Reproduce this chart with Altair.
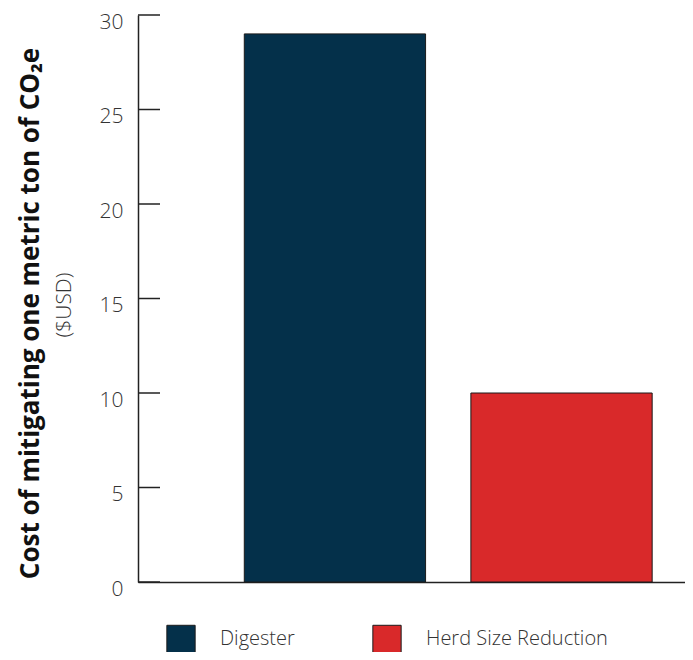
import altair as alt
import pandas as pd

categories = ["Digester", "Herd Size Reduction"]
values = [29, 10]
colors = ["#04304A", "#D9292A"]
tick_values = [0, 5, 10, 15, 20, 25, 30]

FONT = "Open Sans"

df = pd.DataFrame({"category": categories, "value": values})
ticks_df = pd.DataFrame({"t": tick_values})
sub_df = pd.DataFrame({"label": ["($USD)"]})

y_scale = alt.Scale(domain=[0, 30], nice=False)

bars = alt.Chart(df).mark_bar(stroke="#1a1a1a", strokeWidth=1).encode(
    x=alt.X(
        "category:N",
        sort=categories,
        scale=alt.Scale(paddingInner=0.2, paddingOuter=0.307, align=0.764),
        axis=alt.Axis(labels=False, ticks=False, title=None, domainColor="#222222", domainWidth=1.5),
    ),
    y=alt.Y(
        "value:Q",
        scale=y_scale,
        axis=alt.Axis(
            values=tick_values,
            ticks=False,
            grid=False,
            domainColor="#222222",
            domainWidth=1.5,
            labelFont=FONT,
            labelFontSize=21,
            labelFontWeight=300,
            labelColor="#333333",
            labelPadding=15,
            labelOffset=7,
            title="Cost of mitigating one metric ton of CO₂e",
            titleFont=FONT,
            titleFontSize=26,
            titleFontWeight="bold",
            titleColor="#111111",
            titleAngle=270,
            titleAlign="center",
            titleBaseline="middle",
            titleX=-108,
            titleY=298,
        ),
    ),
    color=alt.Color(
        "category:N",
        sort=categories,
        scale=alt.Scale(domain=categories, range=colors),
        legend=alt.Legend(
            title=None,
            orient="none",
            direction="horizontal",
            legendX=28,
            legendY=609,
            symbolType="square",
            symbolSize=800,
            symbolStrokeColor="#1a1a1a",
            symbolStrokeWidth=1,
            symbolOpacity=1,
            labelFont=FONT,
            labelFontSize=20,
            labelFontWeight=300,
            labelColor="#333333",
            labelOffset=24,
            labelLimit=400,
            columnPadding=75,
            padding=0,
        ),
    ),
)

tick_rules = alt.Chart(ticks_df).mark_rule(color="#222222", strokeWidth=1.5).encode(
    y=alt.Y("t:Q", scale=y_scale),
    x=alt.value(0),
    x2=alt.value(22),
)

subtitle = alt.Chart(sub_df).mark_text(
    font=FONT, fontSize=21, fontWeight=300, color="#333333", angle=270, align="center", baseline="middle"
).encode(
    text="label:N",
    x=alt.value(-73),
    y=alt.value(290),
)

chart = alt.layer(bars, tick_rules, subtitle).properties(
    width=547,
    height=567,
    autosize=alt.AutoSizeParams(type="none"),
    padding={"left": 130, "top": 7, "right": 0, "bottom": 70},
).configure_view(stroke=None)

chart.save("out.html", embed_options={"renderer": "svg", "actions": False})
